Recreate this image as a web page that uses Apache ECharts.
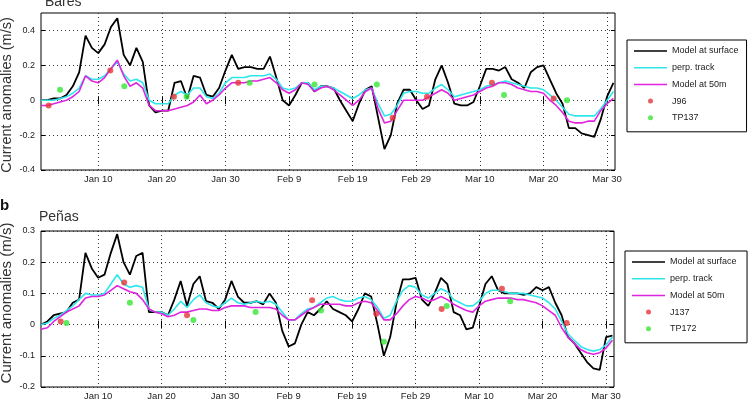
<!DOCTYPE html>
<html>
<head>
<meta charset="utf-8">
<script src="https://cdn.jsdelivr.net/npm/echarts@6/dist/echarts.min.js"></script>
<style>html,body{margin:0;padding:0;background:#fff;}#c{width:755px;height:403px;}</style>
</head>
<body>
<div id="c"></div>
<script>
// ---- data (day of year 2008, Jan 1 = 1) ----
const days = [1,2,3,4,5,6,7,8,9,10,11,12,13,14,15,16,17,18,19,20,21,22,23,24,25,26,27,28,29,30,31,32,33,34,35,36,37,38,39,40,41,42,43,44,45,46,47,48,49,50,51,52,53,54,55,56,57,58,59,60,61,62,63,64,65,66,67,68,69,70,71,72,73,74,75,76,77,78,79,80,81,82,83,84,85,86,87,88,89,90,91];
const xTickValues = [10,20,30,40,50,60,70,80,90];
const xTickLabels = ['Jan 10','Jan 20','Jan 30','Feb 9','Feb 19','Feb 29','Mar 10','Mar 20','Mar 30'];
const yTicksTop = [-0.4,-0.2,0,0.2,0.4];
const yTicksBottom = [-0.2,-0.1,0,0.1,0.2,0.3];
const legendNames = ['Model at surface','perp. track','Model at 50m'];
const yAxisTitle = 'Current anomalies (m/s)';

// Panel a: Bares
const baresSurface = [0.0,0.0,0.01,0.01,0.03,0.08,0.16,0.37,0.3,0.27,0.32,0.42,0.47,0.26,0.2,0.3,0.22,-0.03,-0.07,-0.06,-0.06,0.1,0.11,0.01,0.14,0.13,0.03,0.02,0.07,0.17,0.26,0.18,0.19,0.19,0.18,0.18,0.25,0.13,0.0,-0.03,0.03,0.1,0.1,0.05,0.08,0.08,0.07,0.0,-0.06,-0.12,-0.02,0.06,0.08,-0.1,-0.28,-0.2,-0.02,0.06,0.06,0.0,-0.05,-0.03,0.12,0.2,0.1,-0.02,-0.03,-0.03,-0.01,0.08,0.18,0.18,0.17,0.19,0.12,0.1,0.07,0.16,0.19,0.2,0.12,0.04,-0.02,-0.16,-0.16,-0.19,-0.2,-0.21,-0.11,0.02,0.1];
const baresPerp = [0.0,0.0,0.0,0.01,0.02,0.04,0.07,0.14,0.12,0.12,0.14,0.18,0.22,0.15,0.11,0.12,0.1,0.0,-0.02,-0.02,-0.02,0.03,0.05,0.03,0.07,0.07,0.02,0.01,0.04,0.1,0.13,0.13,0.13,0.14,0.14,0.14,0.15,0.12,0.07,0.06,0.07,0.1,0.1,0.06,0.08,0.08,0.07,0.05,0.03,0.01,0.03,0.06,0.07,-0.02,-0.09,-0.08,-0.03,0.04,0.05,0.05,0.04,0.04,0.07,0.09,0.06,0.02,0.03,0.04,0.05,0.06,0.08,0.09,0.1,0.11,0.1,0.09,0.08,0.07,0.07,0.06,0.03,0.0,-0.04,-0.08,-0.09,-0.09,-0.09,-0.09,-0.05,0.0,0.05];
const bares50m = [-0.03,-0.03,-0.02,-0.01,0.0,0.02,0.05,0.14,0.11,0.1,0.13,0.18,0.23,0.14,0.08,0.1,0.07,-0.03,-0.06,-0.06,-0.06,-0.05,-0.04,-0.03,-0.01,0.03,-0.02,0.0,0.03,0.07,0.1,0.1,0.1,0.11,0.11,0.12,0.13,0.1,0.06,0.04,0.06,0.1,0.09,0.05,0.07,0.08,0.06,0.03,0.0,-0.03,0.0,0.05,0.07,-0.05,-0.13,-0.12,-0.06,0.0,0.0,0.0,0.0,0.02,0.04,0.06,0.04,0.0,0.01,0.02,0.03,0.05,0.07,0.08,0.1,0.1,0.09,0.07,0.06,0.05,0.05,0.04,0.0,-0.03,-0.07,-0.12,-0.13,-0.13,-0.12,-0.12,-0.06,-0.02,0.01];
const baresJ96Days = [2.2,11.9,21.9,32,56.3,61.7,71.9,81.6];
const baresJ96 = [-0.03,0.17,0.02,0.1,-0.1,0.02,0.1,0.01];
const baresTPDays = [4,14.1,23.9,33.8,44,53.8,73.8,83.7];
const baresTP = [0.06,0.08,0.02,0.1,0.09,0.09,0.03,0.0];

// Panel b: Peñas
const penasSurface = [0.0,0.01,0.03,0.035,0.04,0.07,0.08,0.23,0.18,0.15,0.16,0.23,0.29,0.2,0.16,0.22,0.23,0.04,0.04,0.04,0.03,0.08,0.14,0.06,0.13,0.155,0.075,0.07,0.05,0.08,0.14,0.09,0.07,0.07,0.075,0.065,0.1,0.07,-0.02,-0.07,-0.06,0.0,0.04,0.03,0.05,0.075,0.05,0.04,0.03,0.01,0.05,0.1,0.09,0.0,-0.1,-0.04,0.07,0.145,0.145,0.15,0.08,0.06,0.1,0.15,0.13,0.04,0.03,-0.015,-0.01,0.06,0.13,0.155,0.11,0.1,0.1,0.1,0.095,0.1,0.12,0.11,0.12,0.07,0.03,-0.04,-0.06,-0.09,-0.12,-0.14,-0.145,-0.04,-0.035];
const penasPerp = [0.0,0.005,0.02,0.03,0.045,0.06,0.08,0.1,0.095,0.095,0.1,0.13,0.16,0.13,0.12,0.125,0.12,0.05,0.04,0.04,0.03,0.05,0.075,0.055,0.08,0.095,0.07,0.06,0.055,0.07,0.085,0.07,0.065,0.07,0.075,0.07,0.075,0.065,0.04,0.015,0.015,0.035,0.05,0.055,0.07,0.085,0.09,0.08,0.075,0.075,0.085,0.09,0.08,0.055,0.02,0.03,0.075,0.11,0.125,0.12,0.095,0.085,0.1,0.115,0.105,0.08,0.07,0.06,0.06,0.075,0.1,0.11,0.11,0.105,0.1,0.1,0.1,0.095,0.09,0.085,0.07,0.05,0.01,-0.03,-0.05,-0.07,-0.08,-0.085,-0.08,-0.065,-0.04];
const penas50m = [-0.015,-0.01,0.01,0.025,0.04,0.05,0.06,0.085,0.09,0.09,0.095,0.11,0.125,0.115,0.105,0.1,0.08,0.05,0.04,0.035,0.025,0.03,0.04,0.04,0.045,0.05,0.05,0.045,0.045,0.055,0.06,0.06,0.06,0.055,0.055,0.055,0.055,0.05,0.03,0.015,0.015,0.03,0.045,0.055,0.065,0.065,0.065,0.065,0.06,0.06,0.07,0.075,0.07,0.045,0.015,0.015,0.035,0.06,0.08,0.09,0.085,0.075,0.08,0.09,0.08,0.065,0.055,0.045,0.04,0.06,0.075,0.08,0.085,0.085,0.085,0.08,0.08,0.075,0.07,0.06,0.045,0.03,-0.01,-0.04,-0.06,-0.08,-0.09,-0.095,-0.09,-0.075,-0.05];
const penasJ137Days = [4.1,14.1,24,43.7,53.8,64.1,73.6,83.8];
const penasJ137 = [0.01,0.135,0.03,0.078,0.035,0.05,0.115,0.005];
const penasTPDays = [5,15,25,34.8,45.1,55,64.9,74.9];
const penasTP = [0.005,0.07,0.015,0.04,0.045,-0.055,0.06,0.075];

// ---- chart ----
const FONT = 'Liberation Sans, Arial, sans-serif';
const C_BLACK = '#000000', C_CYAN = '#2ee6ec', C_MAG = '#e025e0', C_RED = '#e5343a', C_GREEN = '#36e636';
const pairs = (xs, ys) => xs.map((x, i) => [x, ys[i]]);
const fmtY = v => (Math.abs(v) < 1e-9 ? '0' : String(Math.round(v * 10) / 10));
const LINE_ICON = 'path://M0,0L66,0L66,3L0,3Z';

function xAxes(grid) {
  return [
    { gridIndex: grid, type: 'value', min: 1, max: 91.25,
      axisLine: { show: false },
      axisTick: { customValues: xTickValues, inside: true, length: 4, lineStyle: { color: '#000' } },
      axisLabel: { customValues: xTickValues, formatter: v => xTickLabels[xTickValues.indexOf(v)] || '',
        fontSize: 9.5, color: '#222', fontFamily: FONT, margin: 4 },
      splitLine: { show: true, lineStyle: { type: [1, 3], color: '#333', width: 1 } } },
    { gridIndex: grid, type: 'value', min: 1, max: 91.25, position: 'top',
      axisLine: { show: false },
      axisTick: { customValues: xTickValues, inside: true, length: 4, lineStyle: { color: '#000' } },
      axisLabel: { show: false }, splitLine: { show: false } }
  ];
}
function yAxes(grid, min, max, ticks) {
  return [
    { gridIndex: grid, type: 'value', min: min, max: max,
      axisLine: { show: false },
      axisTick: { customValues: ticks, inside: true, length: 4, lineStyle: { color: '#000' } },
      axisLabel: { customValues: ticks, formatter: fmtY, fontSize: 9, color: '#222', fontFamily: FONT, margin: 6 },
      splitLine: { show: true, lineStyle: { type: [1, 3], color: '#333', width: 1 } } },
    { gridIndex: grid, type: 'value', min: min, max: max, position: 'right',
      axisLine: { show: false },
      axisTick: { customValues: ticks, inside: true, length: 4, lineStyle: { color: '#000' } },
      axisLabel: { show: false }, splitLine: { show: false } }
  ];
}
function lineSeries(name, data, color, xi, yi, w) {
  return { name: name, type: 'line', xAxisIndex: xi, yAxisIndex: yi, data: pairs(days, data),
    showSymbol: false, symbol: 'none', smooth: false, silent: true,
    lineStyle: { color: color, width: w }, itemStyle: { color: color } };
}
function dotSeries(name, xs, ys, color, xi, yi) {
  return { name: name, type: 'scatter', xAxisIndex: xi, yAxisIndex: yi, data: pairs(xs, ys),
    symbol: 'circle', symbolSize: 6, itemStyle: { color: color }, z: 5, silent: true };
}
function legend(top, left, lineNames, dotNames) {
  return { orient: 'vertical', top: top, left: left, itemWidth: 33, itemHeight: 5, itemGap: 6.7,
    padding: [6, 8, 9, 7], borderColor: '#000', borderWidth: 1, backgroundColor: '#fff',
    textStyle: { fontSize: 9, color: '#222', fontFamily: FONT, lineHeight: 10 },
    selectedMode: false,
    data: [...lineNames.map(n => ({ name: n, icon: LINE_ICON })),
           ...dotNames.map(n => ({ name: n, icon: 'circle' }))] };
}
function vTitle(cx, cy, size) {
  return { type: 'text', x: cx, y: cy, rotation: Math.PI / 2,
    style: { text: yAxisTitle, fontSize: size, fill: '#333', fontFamily: FONT, align: 'center', verticalAlign: 'middle' } };
}

const chart = echarts.init(document.getElementById('c'), null, { renderer: 'canvas' });
chart.setOption({
  animation: false,
  backgroundColor: '#fff',
  grid: [
    { left: 41, top: 13, width: 574, height: 157, show: true, borderColor: '#000', borderWidth: 1,
      backgroundColor: '#fff', outerBoundsMode: 'none', containLabel: false },
    { left: 41, top: 231, width: 573, height: 156, show: true, borderColor: '#000', borderWidth: 1,
      backgroundColor: '#fff', outerBoundsMode: 'none', containLabel: false }
  ],
  xAxis: [...xAxes(0), ...xAxes(1)],
  yAxis: [...yAxes(0, -0.4, 0.5, yTicksTop), ...yAxes(1, -0.2, 0.3, yTicksBottom)],
  legend: [
    legend(40, 627, legendNames, ['J96', 'TP137']),
    legend(251, 625, legendNames.map(n => n + ' '), ['J137', 'TP172'])
  ],
  graphic: [
    { type: 'text', left: 45, top: -5, style: { text: 'Bares', fontSize: 14, fill: '#333', fontFamily: FONT } },
    { type: 'text', left: 39, top: 210, style: { text: 'Peñas', fontSize: 14, fill: '#333', fontFamily: FONT } },
    { type: 'text', left: 0, top: 198, style: { text: 'b', fontSize: 15, fontWeight: 'bold', fill: '#111', fontFamily: FONT } },
    vTitle(7, 95, 14.5),
    vTitle(7, 303, 15)
  ],
  series: [
    lineSeries(legendNames[0], baresSurface, C_BLACK, 0, 0, 1.8),
    lineSeries(legendNames[1], baresPerp, C_CYAN, 0, 0, 1.6),
    lineSeries(legendNames[2], bares50m, C_MAG, 0, 0, 1.6),
    dotSeries('J96', baresJ96Days, baresJ96, C_RED, 0, 0),
    dotSeries('TP137', baresTPDays, baresTP, C_GREEN, 0, 0),
    lineSeries(legendNames[0] + ' ', penasSurface, C_BLACK, 2, 2, 1.8),
    lineSeries(legendNames[1] + ' ', penasPerp, C_CYAN, 2, 2, 1.6),
    lineSeries(legendNames[2] + ' ', penas50m, C_MAG, 2, 2, 1.6),
    dotSeries('J137', penasJ137Days, penasJ137, C_RED, 2, 2),
    dotSeries('TP172', penasTPDays, penasTP, C_GREEN, 2, 2)
  ]
});
</script>
</body>
</html>
